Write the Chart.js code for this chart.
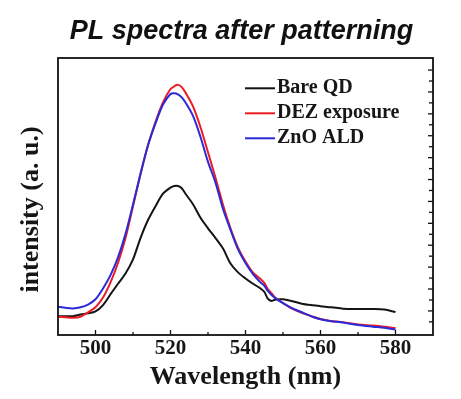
<!DOCTYPE html>
<html>
<head>
<meta charset="utf-8">
<script src="https://cdn.jsdelivr.net/npm/chart.js@4/dist/chart.umd.min.js"></script>
<style>
  html, body { margin: 0; padding: 0; background: #ffffff; }
  canvas { display: block; }
</style>
</head>
<body>
<canvas id="c" width="461" height="399"></canvas>
<script>
// ---- data (intensity in arbitrary units) ----
const wavelengths = [490,492,494,496,498,500,502,504,506,508,510,512,514,516,518,520,521,522,523,524,526,528,530,532,534,536,538,540,542,544,545,546,547,548,550,552,555,558,560,563,566,570,574,577,580];
const bareQD = [6.8,6.8,6.8,7.4,7.8,8.5,10.8,14.7,18.5,22.2,27.3,35.0,41.5,46.5,51.0,53.2,53.8,53.8,53.0,51.0,47.2,42.3,38.5,35.0,31.2,25.8,22.6,20.4,18.5,16.8,15.6,13.0,12.3,12.8,12.9,12.4,11.3,10.7,10.4,10.0,9.5,9.4,9.4,9.2,8.3];
const dezExposure = [6.6,6.4,6.2,6.6,8.2,10.0,13.5,19.0,26.0,35.0,46.5,58.0,68.5,77.0,84.0,88.8,89.8,90.3,89.5,87.5,82.5,75.0,66.0,56.8,47.0,38.5,31.5,26.5,22.5,20.2,18.8,16.5,15.0,13.4,11.5,9.8,8.0,6.6,5.8,5.0,4.6,3.8,3.4,3.0,2.5];
const znoALD = [10.2,9.8,9.6,10.0,11.0,12.9,16.8,21.6,28.0,36.5,47.1,58.2,68.5,76.4,83.2,87.0,87.3,86.9,85.8,83.9,79.1,71.5,62.5,55.0,45.5,38.0,31.0,26.0,22.0,19.0,17.8,15.8,14.4,13.2,11.5,10.0,8.2,6.5,5.7,5.0,4.5,3.6,3.0,2.6,2.0];
const seriesLabels = ['Bare QD', 'DEZ exposure', 'ZnO ALD'];
const xTickLabels = ['500', '520', '540', '560', '580'];
const chartTitle = 'PL spectra after patterning';
const xTitle = 'Wavelength (nm)';
const yTitle = 'intensity (a. u.)';

const SERIF = '"Liberation Serif", "Times New Roman", serif';
const SANS = '"Liberation Sans", Arial, sans-serif';

function pts(ys) { return wavelengths.map((x, i) => ({ x: x, y: ys[i] })); }

// frame + inward tick marks, drawn from the scales
const frameTicks = {
  id: 'frameTicks',
  afterDatasetsDraw(chart) {
    const { ctx, chartArea: a, scales } = chart;
    ctx.save();
    ctx.strokeStyle = '#111';
    ctx.lineWidth = 1.3;
    scales.x.ticks.forEach(t => {
      const px = scales.x.getPixelForValue(t.value);
      if (px <= a.left + 1 || px >= a.right - 1) return;
      const len = (t.value % 20 === 0) ? 5 : 3;
      ctx.beginPath(); ctx.moveTo(px, a.bottom); ctx.lineTo(px, a.bottom - len); ctx.stroke();
    });
    scales.y2.ticks.forEach(t => {
      if (!Number.isInteger(t.value)) return;
      const py = scales.y2.getPixelForValue(t.value);
      if (py <= a.top + 1 || py > a.bottom) return;
      const len = (t.value % 2 === 0) ? 5 : 4;
      ctx.beginPath(); ctx.moveTo(a.right, py); ctx.lineTo(a.right - len, py); ctx.stroke();
    });
    ctx.lineWidth = 1.8;
    ctx.strokeRect(a.left, a.top, a.right - a.left, a.bottom - a.top);
    ctx.restore();
  }
};

// legend inside the plot area
const insideLegend = {
  id: 'insideLegend',
  afterDatasetsDraw(chart, args, opts) {
    const { ctx, chartArea: a } = chart;
    ctx.save();
    ctx.font = 'bold 20px ' + SERIF;
    ctx.textBaseline = 'middle';
    ctx.textAlign = 'left';
    chart.data.datasets.forEach((ds, i) => {
      const y = a.top + opts.top + i * opts.rowGap;
      const x0 = a.left + opts.left;
      ctx.strokeStyle = ds.borderColor;
      ctx.lineWidth = 2;
      ctx.beginPath(); ctx.moveTo(x0, y); ctx.lineTo(x0 + opts.lineLen, y); ctx.stroke();
      ctx.fillStyle = '#161616';
      ctx.fillText(ds.label, x0 + opts.lineLen + 2, y);
    });
    ctx.restore();
  }
};

new Chart(document.getElementById('c'), {
  type: 'line',
  data: {
    datasets: [
      { label: seriesLabels[0], data: pts(bareQD), borderColor: '#141414', order: 2 },
      { label: seriesLabels[1], data: pts(dezExposure), borderColor: '#ec1c24', order: 1 },
      { label: seriesLabels[2], data: pts(znoALD), borderColor: '#2a2ad8', order: 0 }
    ]
  },
  options: {
    responsive: false,
    animation: false,
    events: [],
    layout: { padding: { left: 22, right: 0, top: 0, bottom: 0 } },
    elements: {
      point: { radius: 0 },
      line: { borderWidth: 2, tension: 0.3, fill: false }
    },
    plugins: {
      legend: { display: false },
      tooltip: { enabled: false },
      title: {
        display: true,
        text: chartTitle,
        color: '#111',
        font: { family: SANS, size: 27, weight: 'bold', style: 'italic', lineHeight: 1.2 },
        padding: { top: 15.8, bottom: 9.8 }
      },
      insideLegend: { left: 187, top: 30.3, rowGap: 25, lineLen: 30 }
    },
    scales: {
      x: {
        type: 'linear',
        position: 'bottom',
        min: 490, max: 590,
        grid: { display: false, drawTicks: false },
        border: { display: false },
        ticks: {
          stepSize: 10, autoSkip: false, maxRotation: 0, padding: 1,
          color: '#161616',
          font: { family: SERIF, size: 21, weight: 'bold', lineHeight: 1.2 },
          callback: v => xTickLabels.includes(String(v)) ? String(v) : ''
        },
        title: {
          display: true, text: xTitle, color: '#161616',
          font: { family: SERIF, size: 26, weight: 'bold', lineHeight: 1.2 },
          padding: { top: 0, bottom: 6.5 }
        },
        afterFit: s => { s.height = 64; }
      },
      y: {
        type: 'linear',
        position: 'left',
        min: 0, max: 100,
        grid: { display: false, drawTicks: false },
        border: { display: false },
        ticks: { display: false },
        title: {
          display: true, text: yTitle + '    ', color: '#161616',
          font: { family: SERIF, size: 26, weight: 'bold', lineHeight: 0.74 },
          padding: { top: 0, bottom: 0 }
        },
        afterFit: s => { s.width = 36; }
      },
      y2: {
        type: 'linear',
        position: 'right',
        min: -0.2, max: 25.1,
        grid: { display: false, drawTicks: false },
        border: { display: false },
        ticks: { display: false, stepSize: 1 },
        afterFit: s => { s.width = 28; }
      }
    }
  },
  plugins: [frameTicks, insideLegend]
});
</script>
</body>
</html>
